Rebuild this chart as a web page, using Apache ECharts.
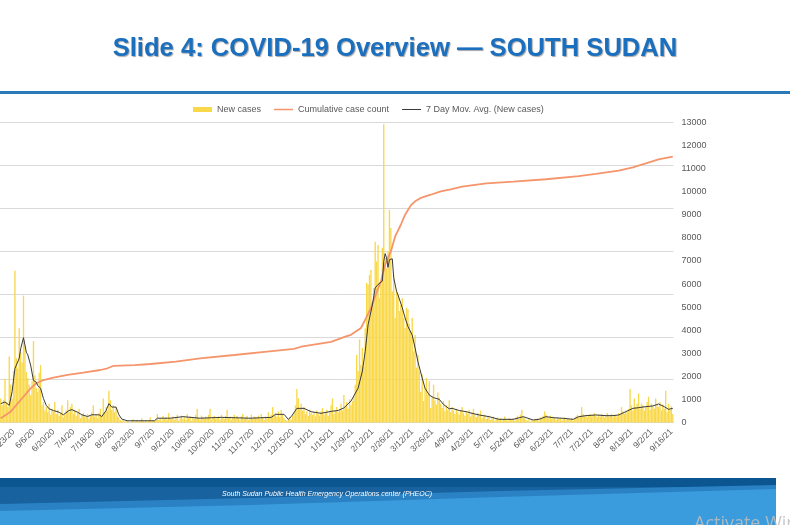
<!DOCTYPE html>
<html>
<head>
<meta charset="utf-8">
<title>COVID-19 Overview - South Sudan</title>
<script src="https://cdn.jsdelivr.net/npm/echarts@6/dist/echarts.min.js"></script>
<style>
	html, body { margin: 0; padding: 0; background: #ffffff; }
	#chart { width: 790px; height: 525px; }
</style>
</head>
<body>
<div id="chart"></div>
<script>
// x axis: one category per report day, a label every 14 categories
var tickLabels = ['5/23/20', '6/6/20', '6/20/20', '7/4/20', '7/18/20', '8/2/20', '8/23/20', '9/7/20', '9/21/20',
	'10/6/20', '10/20/20', '11/3/20', '11/17/20', '12/1/20', '12/15/20', '1/1/21', '1/15/21', '1/29/21', '2/12/21',
	'2/26/21', '3/12/21', '3/26/21', '4/9/21', '4/23/21', '5/7/21', '5/24/21', '6/8/21', '6/23/21', '7/7/21',
	'7/21/21', '8/5/21', '8/19/21', '9/2/21', '9/16/21'
];
var firstTick = 9;
var tickStep = 14;

// daily new cases (left axis)
var newCases = [
	28, 20, 26, 51, 24, 18, 77, 44, 28, 60, 177, 75, 63, 110, 82, 70, 148, 90, 59, 52,
	44, 32, 48, 95, 55, 40, 36, 58, 67, 20, 24, 14, 18, 12, 22, 9, 16, 13, 24, 10,
	15, 8, 11, 20, 6, 9, 14, 26, 12, 18, 22, 10, 14, 8, 12, 16, 5, 9, 11, 7,
	6, 10, 4, 8, 12, 20, 7, 9, 5, 11, 16, 8, 28, 12, 18, 14, 37, 26, 15, 20,
	12, 18, 8, 6, 3, 2, 4, 1, 2, 3, 1, 0, 2, 4, 1, 2, 3, 1, 2, 5,
	2, 1, 3, 0, 2, 6, 1, 3, 2, 4, 10, 3, 5, 2, 8, 4, 6, 3, 11, 5,
	4, 7, 3, 6, 9, 2, 5, 8, 4, 6, 3, 10, 5, 7, 2, 6, 4, 9, 16, 5,
	3, 8, 6, 4, 7, 5, 9, 16, 3, 6, 8, 4, 5, 7, 3, 9, 6, 4, 8, 15,
	5, 7, 3, 6, 9, 4, 8, 5, 3, 7, 10, 4, 6, 8, 3, 5, 9, 4, 7, 6,
	5, 8, 4, 10, 6, 3, 7, 5, 12, 6, 9, 18, 8, 11, 7, 13, 6, 15, 9, 5,
	3, 2, 4, 6, 3, 8, 12, 20, 39, 28, 16, 22, 14, 18, 10, 13, 8, 15, 11, 9,
	12, 7, 14, 10, 8, 13, 17, 9, 11, 15, 8, 12, 20, 28, 10, 14, 18, 12, 16, 22,
	14, 32, 18, 24, 16, 27, 20, 25, 30, 44, 79, 60, 97, 67, 87, 65, 110, 163, 161, 172,
	178, 140, 157, 211, 188, 207, 145, 161, 204, 348, 192, 180, 200, 248, 227, 153, 172, 122, 155, 149,
	130, 137, 145, 122, 110, 134, 132, 115, 106, 122, 83, 102, 64, 79, 60, 36, 56, 25, 40, 52,
	32, 48, 17, 30, 44, 26, 21, 35, 29, 22, 17, 25, 13, 20, 15, 26, 12, 18, 14, 10,
	16, 12, 9, 14, 18, 11, 8, 13, 10, 15, 7, 12, 16, 9, 6, 11, 8, 14, 5, 7,
	9, 4, 6, 8, 3, 5, 7, 2, 4, 6, 3, 5, 2, 4, 7, 3, 2, 5, 4, 3,
	5, 2, 6, 8, 4, 9, 15, 7, 5, 3, 2, 4, 1, 3, 2, 4, 3, 5, 2, 6,
	4, 8, 13, 9, 6, 5, 8, 4, 7, 5, 3, 6, 4, 5, 2, 4, 6, 3, 5, 4,
	3, 5, 2, 4, 7, 9, 6, 8, 18, 10, 7, 9, 6, 8, 10, 7, 9, 11, 8, 6,
	9, 7, 10, 8, 6, 9, 11, 7, 8, 10, 6, 9, 8, 7, 11, 9, 18, 13, 10, 14,
	12, 16, 39, 20, 14, 28, 18, 22, 34, 16, 22, 20, 14, 18, 24, 30, 15, 22, 19, 16,
	28, 20, 18, 24, 14, 21, 16, 37, 12, 22, 15, 19, 10
];

// cumulative case count (right axis), [category index, value]
var cumulative = [
	[0, 180], [7, 470], [14, 975], [21, 1480], [25, 1700], [30, 1840], [37, 1940], [47, 2060], [58, 2160],
	[70, 2275], [75, 2350], [79, 2450], [94, 2490], [105, 2535], [123, 2635], [140, 2780], [164, 2925],
	[187, 3070], [206, 3190], [209, 3240], [211, 3285], [232, 3490], [242, 3720], [246, 3800], [253, 4095],
	[256, 4455], [260, 4960], [263, 5470], [267, 6115], [270, 6840], [274, 7415], [277, 8065], [281, 8570],
	[284, 9005], [288, 9410], [291, 9585], [295, 9730], [302, 9870], [309, 10015], [316, 10100], [324, 10220],
	[341, 10365], [360, 10435], [383, 10540], [406, 10680], [418, 10770], [434, 10910], [444, 11060],
	[453, 11230], [462, 11405], [472, 11520]
];

// 7 day moving average of new cases (left axis), [category index, value]
var movAvg = [
	[0, 22], [3, 24], [6, 20], [8, 36], [10, 63], [13, 75], [14, 86], [16, 99], [18, 82], [19, 79], [21, 67],
	[23, 49], [25, 47], [26, 43], [28, 40], [30, 28], [32, 20], [34, 16], [37, 14], [41, 12], [44, 9], [48, 14],
	[50, 15], [54, 12], [57, 9], [61, 7], [64, 9], [69, 9], [71, 7], [74, 14], [76, 22], [78, 18], [81, 18],
	[83, 9], [85, 4], [89, 2], [108, 2], [110, 5], [119, 5], [128, 6.8], [140, 5], [155, 6], [175, 5], [190, 6],
	[193, 9.5], [199, 9.5], [202, 3.7], [204, 6.8], [208, 16.5], [213, 16.5], [218, 12.6], [225, 10.7], [232, 13],
	[237, 14], [241, 17], [246, 25], [251, 40], [254, 60], [256, 83], [258, 114], [261, 137], [263, 157],
	[265, 161], [268, 165], [269, 188], [270, 197], [271, 192], [272, 181], [273, 190], [275, 191], [276, 169],
	[278, 153], [279, 149], [282, 134], [284, 122], [286, 112], [289, 102], [291, 87], [293, 71], [296, 52],
	[298, 40], [301, 32], [304, 29], [308, 27], [311, 21], [315, 16], [317, 16.5], [322, 14], [327, 12.6],
	[331, 10.7], [336, 8.8], [343, 6.8], [350, 3.7], [360, 3.7], [367, 6.8], [374, 2.9], [378, 3.7], [383, 6.8],
	[388, 5.6], [395, 4.9], [402, 3.7], [406, 6.8], [411, 8], [418, 8.8], [425, 8], [430, 8], [434, 8.8],
	[439, 12.6], [444, 16.5], [448, 17.3], [453, 18.5], [458, 19.3], [462, 21.6], [466, 18.5], [469, 15.4],
	[472, 16.5]
];

var days = [];
for (var i = 0; i < newCases.length; i++) {
	var k = (i - firstTick) / tickStep;
	if (k >= 0 && k % 1 === 0 && k < tickLabels.length) {
		days.push(tickLabels[k]);
	} else {
		days.push('d' + i);
	}
}

// thin line legend icons (bounding box 19x5, tiny corner dots keep the box)
var lineIcon = function(thick) {
	var y0 = (5 - thick) / 2;
	return 'path://M0,0h0.01v0.01h-0.01z M0,' + y0 + 'h19v' + thick + 'h-19z M18.99,4.99h0.01v0.01h-0.01z';
};

var myChart = echarts.init(document.getElementById('chart'));

var option = {
	backgroundColor: '#ffffff',
	animation: false,
	title: {
		text: 'Slide 4: COVID-19 Overview \u2014 SOUTH SUDAN',
		left: 'center',
		top: 31,
		textStyle: {
			fontFamily: 'Liberation Sans, Arial, sans-serif',
			fontWeight: 'bold',
			fontSize: 25.6,
			color: '#1b6fbf',
			textShadowColor: 'rgba(0,0,0,0.35)',
			textShadowBlur: 1,
			textShadowOffsetX: 1,
			textShadowOffsetY: 1
		}
	},
	legend: {
		left: 188,
		top: 100,
		itemWidth: 19,
		itemHeight: 5,
		itemGap: 13,
		textStyle: {
			fontFamily: 'Liberation Sans, Arial, sans-serif',
			fontSize: 9,
			color: '#595959'
		},
		data: [{
			name: 'New cases',
			icon: 'rect'
		}, {
			name: 'Cumulative case count',
			icon: lineIcon(1.6)
		}, {
			name: '7 Day Mov. Avg. (New cases)',
			icon: lineIcon(1)
		}]
	},
	grid: {
		left: 0,
		right: 116.5,
		top: 122.5,
		bottom: 102.5,
		containLabel: false,
		outerBoundsMode: 'none'
	},
	xAxis: {
		type: 'category',
		data: days,
		boundaryGap: true,
		axisLine: {
			lineStyle: {
				color: '#d9d9d9'
			}
		},
		axisTick: {
			show: false
		},
		axisLabel: {
			rotate: 45,
			margin: 8,
			fontSize: 8.5,
			fontFamily: 'Liberation Sans, Arial, sans-serif',
			color: '#595959',
			interval: function(index, value) {
				return value.charAt(0) !== 'd';
			}
		}
	},
	yAxis: [{
		type: 'value',
		min: 0,
		max: 350,
		interval: 50,
		axisLabel: {
			show: false
		},
		axisLine: {
			show: false
		},
		axisTick: {
			show: false
		},
		splitLine: {
			lineStyle: {
				color: '#d9d9d9',
				width: 1
			}
		}
	}, {
		type: 'value',
		position: 'right',
		min: 0,
		max: 13000,
		interval: 1000,
		axisLine: {
			show: false
		},
		axisTick: {
			show: false
		},
		splitLine: {
			show: false
		},
		axisLabel: {
			margin: 8,
			fontSize: 9,
			fontFamily: 'Liberation Sans, Arial, sans-serif',
			color: '#595959',
			formatter: function(v) {
				return String(v);
			}
		}
	}],
	series: [{
		name: 'New cases',
		type: 'bar',
		yAxisIndex: 0,
		barCategoryGap: '5%',
		itemStyle: {
			color: '#f9d84a'
		},
		data: newCases
	}, {
		name: 'Cumulative case count',
		type: 'line',
		yAxisIndex: 1,
		symbol: 'none',
		lineStyle: {
			color: '#f5956b',
			width: 1.8
		},
		itemStyle: {
			color: '#f5956b'
		},
		data: cumulative
	}, {
		name: '7 Day Mov. Avg. (New cases)',
		type: 'line',
		yAxisIndex: 0,
		symbol: 'none',
		lineStyle: {
			color: '#3a3a3a',
			width: 1
		},
		itemStyle: {
			color: '#3a3a3a'
		},
		data: movAvg
	}],
	graphic: [{
		type: 'rect',
		shape: { x: 0, y: 91, width: 790, height: 3 },
		style: { fill: '#2a79b9' }
	}, {
		type: 'rect',
		shape: { x: 0, y: 478, width: 776, height: 47 },
		style: { fill: '#17629f' }
	}, {
		type: 'rect',
		shape: { x: 0, y: 478, width: 776, height: 9 },
		style: { fill: '#0b5690' }
	}, {
		type: 'polygon',
		shape: { points: [[0, 504], [250, 498], [500, 491], [776, 485], [776, 525], [0, 525]] },
		style: { fill: '#2a82c4' }
	}, {
		type: 'polygon',
		shape: { points: [[0, 511], [250, 505], [500, 497], [776, 489], [776, 525], [0, 525]] },
		style: { fill: '#3a9cdc' }
	}, {
		type: 'text',
		left: 222,
		top: 491,
		style: {
			text: 'South Sudan Public Health Emergency Operations center (PHEOC)',
			fill: '#ffffff',
			font: 'italic 7px "Liberation Sans", Arial, sans-serif'
		}
	}, {
		type: 'text',
		left: 694,
		top: 515,
		style: {
			text: 'Activate Windows',
			fill: 'rgba(190,190,190,0.85)',
			font: '18px "Open Sans", sans-serif'
		}
	}]
};

myChart.setOption(option);
</script>
</body>
</html>
